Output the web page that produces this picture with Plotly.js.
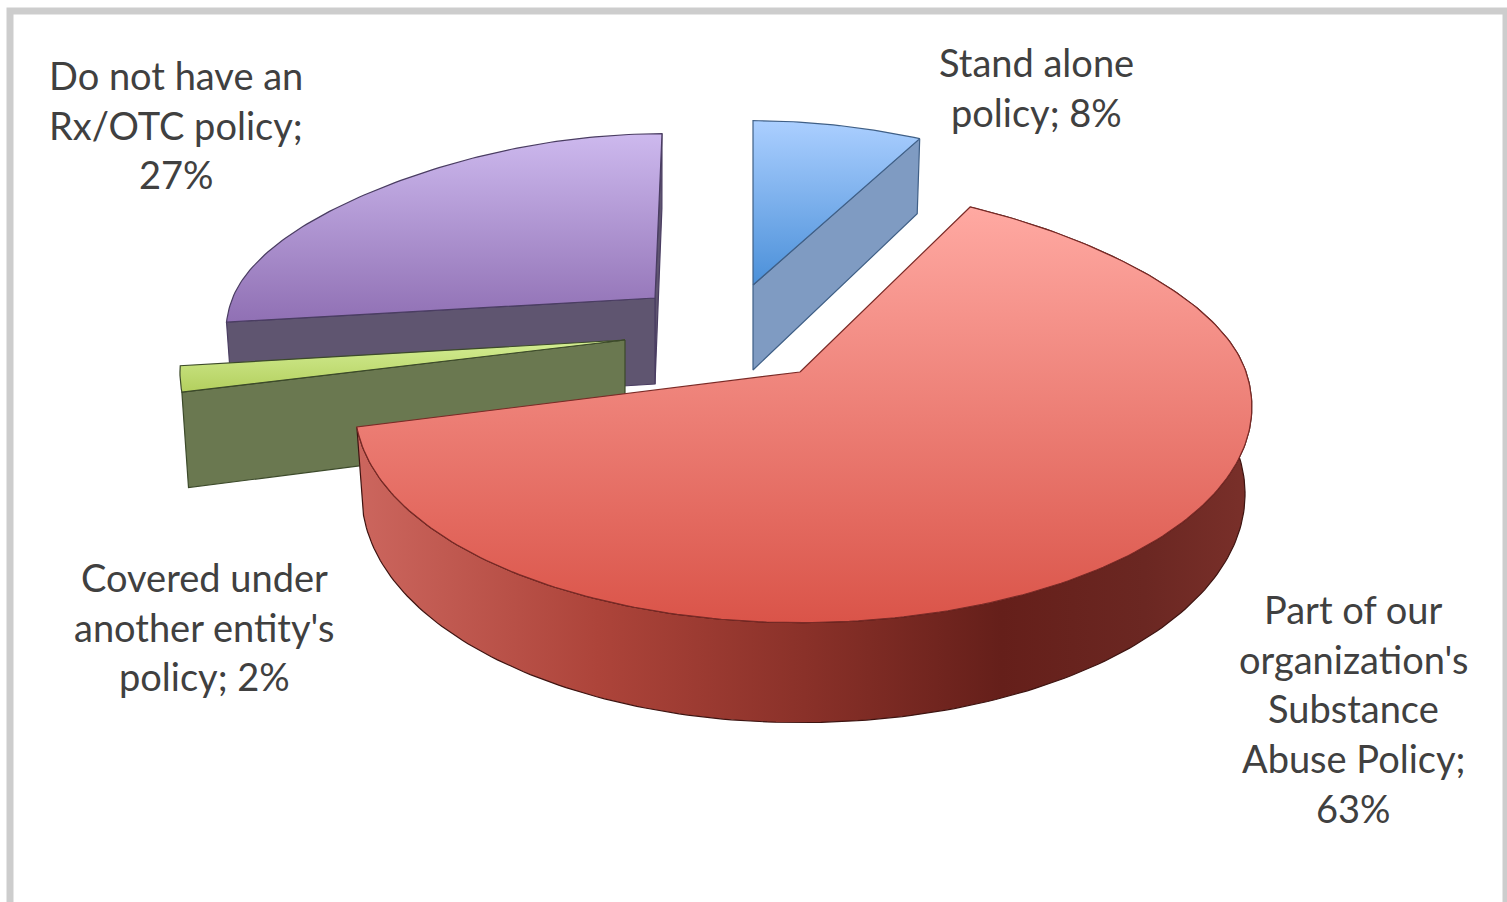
<!DOCTYPE html>
<html>
<head>
<meta charset="utf-8">
<title>Rx/OTC policy coverage</title>
<script src="https://cdn.plot.ly/plotly-3.0.1.min.js"></script>
<style>html,body{margin:0;padding:0;background:#fff;overflow:hidden}</style>
</head>
<body>
<div id="chart" style="width:1507px;height:902px"></div>
<script>
// Survey shares, clockwise from twelve o'clock
const categories = [
  "Stand alone<br>policy",
  "Part of our<br>organization's<br>Substance<br>Abuse Policy",
  "Covered under<br>another entity's<br>policy",
  "Do not have an<br>Rx/OTC policy"
];
const values = [8, 63, 2, 27];

// Label layout: the wrap of "name; value%" differs by slice
const labelBreaks = [["Stand alone", "policy; 8%"],
  ["Part of our", "organization's", "Substance", "Abuse Policy;", "63%"],
  ["Covered under", "another entity's", "policy; 2%"],
  ["Do not have an", "Rx/OTC policy;", "27%"]];
const labelCenterX = [1036, 1353, 204, 176];
const labelTopY = [62, 609, 577, 75];
const LINE_PITCH = 49.7;

// Exploded 3D pie geometry, in page-sized axis units
const RADIUS_X = 446, RADIUS_Y = 213;
const PERSPECTIVE_X = 0.16, FAR_SHRINK_X = 0.16, PERSPECTIVE_Y = 0.15, DEPTH_TAPER = 0.015;
const sliceGeometry = [
  {ax: 753, ay: 285, sx: 0.98, sxLeft: 0.98, sy: 0.887, skew: 0, depth: 85},
  {ax: 800, ay: 372, sx: 1.00, sxLeft: 0.985, sy: 1.00, skew: 0, depth: 85},
  {ax: 625, ay: 340, sx: 0.985, sxLeft: 0.985, sy: 0.946, skew: 0, depth: 92},
  {ax: 655, ay: 298, sx: 0.947, sxLeft: 0.947, sy: 0.887, skew: 7, depth: 86}
];
const sliceStyle = [
  {top: ["#abcfff", "#4b90d9"], cut: "#7f9bc2", edge: "#3f5f86"},
  {top: ["#ffa9a2", "#da5449"], edge: "#7a2a26"},
  {top: ["#d4ee94", "#b3cf5e"], cut: "#6a7850", edge: "#3c4a2a"},
  {top: ["#cdb9ee", "#9070b4"], cut: "#5f5570", edge: "#4a3d62"}
];
const rimStops = [
  [0, "#cc665e"], [0.27, "#ad443a"], [0.5, "#8a3129"],
  [0.72, "#651f1a"], [0.88, "#6b2722"], [1, "#7a302a"]
];

function project(g, deg, z) {
  const a = deg * Math.PI / 180, u = Math.sin(a), v = Math.cos(a);
  const taper = 1 - DEPTH_TAPER * z;
  const far = Math.max(v, 0);
  const wx = 1 + PERSPECTIVE_X * v + FAR_SHRINK_X * far * far;
  const scale = u < 0 ? g.sxLeft : g.sx;
  return [
    g.ax + (scale * RADIUS_X * u / wx + g.skew * v) * taper,
    g.ay + (-g.sy * RADIUS_Y * v + z * g.depth) / (1 + PERSPECTIVE_Y * v)
  ];
}
function arc(g, from, to, z) {
  const steps = Math.max(2, Math.ceil(Math.abs(to - from)));
  const pts = [];
  for (let i = 0; i <= steps; i++) pts.push(project(g, from + (to - from) * i / steps, z));
  return pts;
}
function polygon(pts, name, line, fill) {
  return Object.assign({
    type: "scatter", mode: "lines", name,
    x: pts.map(p => p[0]).concat(pts[0][0]),
    y: pts.map(p => p[1]).concat(pts[0][1]),
    fill: "toself", line: {color: line, width: 1.2}, hoverinfo: "name", showlegend: false
  }, fill);
}
function vertical(stops, pts) {
  const ys = pts.map(p => p[1]);
  return {fillcolor: stops[0], fillgradient: {
    type: "vertical", start: Math.min(...ys), stop: Math.max(...ys),
    colorscale: [[0, stops[0]], [1, stops[1]]]
  }};
}

// Start and end angle of every slice, from the shares
const total = values.reduce((s, v) => s + v, 0);
const angles = [];
values.reduce((acc, v) => { angles.push([acc / total * 360, (acc + v) / total * 360]); return acc + v; }, 0);

const sliceName = i => categories[i].replace(/<br>/g, " ");

function topFace(i) {
  const g = sliceGeometry[i], [a0, a1] = angles[i];
  const all = [[g.ax, g.ay]].concat(arc(g, a0, a1, 0));
  return polygon(all, sliceName(i), sliceStyle[i].edge, vertical(sliceStyle[i].top, all));
}
function cutFace(i, deg) {
  const g = sliceGeometry[i];
  const outerTop = project(g, deg, 0), outerBottom = project(g, deg, 1);
  const pts = [[g.ax, g.ay], outerTop, outerBottom, [g.ax, g.ay + g.depth]];
  return polygon(pts, sliceName(i), sliceStyle[i].edge, {fillcolor: sliceStyle[i].cut});
}
function rimFace(i) {
  const g = sliceGeometry[i], [a0, a1] = angles[i];
  const pts = arc(g, a0, a1, 0).concat(arc(g, a1, a0, 1));
  const xs = pts.map(p => p[0]);
  return polygon(pts, sliceName(i), "#3e1411", {
    fillcolor: "#8a3129",
    fillgradient: {type: "horizontal", start: Math.min(...xs), stop: Math.max(...xs), colorscale: rimStops}
  });
}

// Painted back to front
const traces = [
  cutFace(3, 360), cutFace(3, angles[3][0]), topFace(3),
  cutFace(0, angles[0][1]), topFace(0),
  cutFace(2, angles[2][0]), topFace(2),
  rimFace(1), topFace(1)
];

const annotations = [];
labelBreaks.forEach((lines, i) => lines.forEach((text, k) => annotations.push({
  x: labelCenterX[i], y: labelTopY[i] + k * LINE_PITCH, xref: "x", yref: "y",
  text, showarrow: false, xanchor: "center", yanchor: "middle",
  font: {family: "Lato, 'Open Sans', sans-serif", size: 38, color: "#404040"}
})));

const layout = {
  width: 1507, height: 902, margin: {l: 0, r: 0, t: 0, b: 0},
  paper_bgcolor: "#ffffff", plot_bgcolor: "#ffffff", showlegend: false,
  xaxis: {range: [0, 1507], visible: false, fixedrange: true},
  yaxis: {range: [902, 0], visible: false, fixedrange: true},
  annotations,
  shapes: [{type: "rect", xref: "x", yref: "y", x0: 10, y0: 11, x1: 1506, y1: 940,
            line: {color: "#cdcdcd", width: 7}, layer: "below"}]
};
Plotly.newPlot("chart", traces, layout, {displayModeBar: false, staticPlot: true});
</script>
</body>
</html>
